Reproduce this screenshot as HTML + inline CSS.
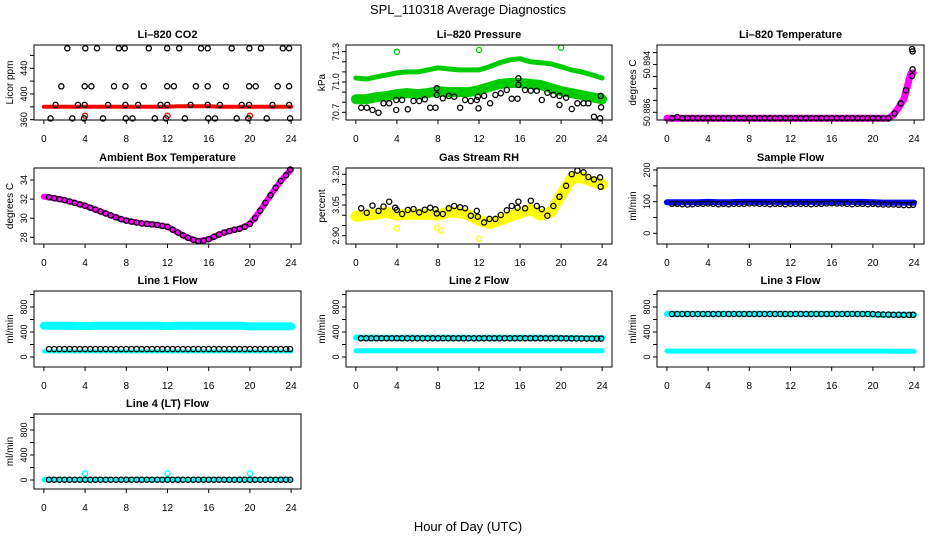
<!DOCTYPE html>
<html><head><meta charset="utf-8"><style>
html,body{margin:0;padding:0;background:#fff;}
svg{display:block;font-family:"Liberation Sans",sans-serif;}
</style></head><body>
<svg id="chart" width="936" height="540" viewBox="0 0 936 540">
<text x="468" y="14" font-size="13" text-anchor="middle">SPL_110318  Average Diagnostics</text>
<text x="468" y="531" font-size="13" text-anchor="middle">Hour of Day (UTC)</text>
</svg>
<script>
const hours = [0,1,2,3,4,5,6,7,8,9,10,11,12,13,14,15,16,17,18,19,20,21,22,23,24];
const halfHours = [0.5,1,1.5,2,2.5,3,3.5,4,4.5,5,5.5,6,6.5,7,7.5,8,8.5,9,9.5,10,10.5,11,11.5,12,12.5,13,13.5,14,14.5,15,15.5,16,16.5,17,17.5,18,18.5,19,19.5,20,20.5,21,21.5,22,22.5,23,23.5,23.9];
const xTicks = [0,4,8,12,16,20,24];

// CO2
const co2Hours = [2.27,4.02,5.16,7.27,7.85,10.18,11.97,13.14,15.25,15.9,18.23,19.95,21.08,23.19,23.8,
 1.69,3.96,4.61,6.81,7.91,9.7,11.97,12.62,14.76,15.9,17.68,19.92,20.56,22.7,23.8,
 1.14,3.31,3.96,6.23,7.91,9.15,11.32,11.97,14.24,15.9,17.09,19.2,19.92,22.19,23.8,
 0.65,2.76,3.89,5.74,7.95,8.6,10.77,11.84,13.69,15.96,16.61,18.72,19.85,21.63,23.9];
const co2Values = [471,471,471,471,471,471,471,471,471,471,471,471,471,471,471,
 412,412,412,412,412,412,412,412,412,412,412,412,412,412,412,
 383,383,383,383,383,383,383,383,383,383,383,383,383,383,383,
 362,362,362,362,362,362,362,362,362,362,362,362,362,362,362];
const co2Band = [380,380,380,380,380,380,380,380,380,380,380,380,380,381,381,381,381,380,380,380,380,380,380,380,380];
const co2OutHours = [4,12,20];
const co2OutValues = [366,366,366];

// Pressure
const presHours = [0.52,1.07,1.62,2.21,2.69,3.25,3.93,3.93,4.51,5.06,5.62,6.17,6.72,7.24,7.76,7.89,7.89,8.47,9.06,9.58,10.16,10.65,11.2,11.79,11.88,11.95,12.5,13.08,13.6,14.12,14.71,15.19,15.75,15.84,15.84,16.49,17.05,17.63,18.12,18.67,19.25,19.84,19.84,20.49,21.04,21.59,22.18,22.66,23.21,23.8,23.86,23.9];
const presValues = [70.746,70.746,70.723,70.696,70.789,70.789,70.723,70.822,70.822,70.730,70.812,70.812,70.829,70.746,70.746,70.938,70.872,70.839,70.862,70.855,70.746,70.822,70.812,70.822,70.855,70.740,70.862,70.789,70.872,70.888,70.921,70.835,70.835,71.037,70.971,70.921,70.914,70.914,70.822,70.894,70.872,70.862,70.773,70.845,70.733,70.789,70.789,70.789,70.657,70.641,70.862,70.750];
const presUpper = [71.04,71.03,71.05,71.07,71.09,71.1,71.1,71.12,71.14,71.13,71.12,71.12,71.12,71.15,71.19,71.22,71.23,71.2,71.19,71.18,71.15,71.12,71.1,71.07,71.04];
const presLower = [70.83,70.83,70.85,70.86,70.88,70.89,70.88,70.89,70.91,70.9,70.9,70.9,70.92,70.95,70.98,70.99,70.99,70.98,70.97,70.94,70.91,70.89,70.87,70.85,70.83];
const presOutHours = [4,12,20];
const presOutValues = [71.30,71.317,71.34];

// Li-820 temperature
const tempBandHours = [0,4,8,12,16,20,21.5,22,22.5,23,23.3,23.5,23.7,23.9];
const tempBand = [50.8830,50.8830,50.8830,50.8830,50.8830,50.8830,50.8830,50.8836,50.8848,50.8862,50.8880,50.8895,50.8905,50.8906];
const tempHours = [0.5,1,1.5,2,2.5,3,3.5,4,4.5,5,5.5,6,6.5,7,7.5,8,8.5,9,9.5,10,10.5,11,11.5,12,12.5,13,13.5,14,14.5,15,15.5,16,16.5,17,17.5,18,18.5,19,19.5,20,20.5,21,21.5,22.1,22.7,23.2,23.8,23.85,23.8,23.85];
const tempValues = [50.8830,50.8832,50.8830,50.8830,50.8830,50.8830,50.8830,50.8830,50.8830,50.8830,50.8830,50.8830,50.8830,50.8830,50.8830,50.8830,50.8830,50.8830,50.8830,50.8830,50.8830,50.8830,50.8830,50.8830,50.8830,50.8830,50.8830,50.8830,50.8830,50.8830,50.8830,50.8830,50.8830,50.8830,50.8830,50.8830,50.8830,50.8830,50.8830,50.8830,50.8830,50.8830,50.8830,50.8838,50.8855,50.8877,50.8901,50.8912,50.8946,50.8942];

// Ambient
const ambBand = [32.25,32.1,31.9,31.6,31.3,30.9,30.5,30.1,29.75,29.55,29.4,29.3,29.1,28.5,27.95,27.6,27.8,28.3,28.65,28.9,29.4,30.8,32.4,33.9,35.1];
const ambValues = [32.2,32.1,32.0,31.9,31.75,31.6,31.45,31.3,31.1,30.9,30.7,30.5,30.3,30.1,29.9,29.75,29.65,29.55,29.45,29.4,29.35,29.3,29.2,29.1,28.8,28.5,28.2,27.95,27.75,27.6,27.65,27.8,28.05,28.3,28.5,28.65,28.8,28.9,29.1,29.4,30.0,30.8,31.6,32.4,33.2,33.9,34.5,35.1];

// RH
const rhHours = [0.52,1.07,1.62,2.21,2.69,3.25,3.83,3.99,4.51,5.06,5.62,6.17,6.72,7.24,7.76,7.89,8.47,9.06,9.58,10.16,10.65,11.2,11.79,11.88,12.5,13.02,13.6,14.12,14.71,15.19,15.75,15.84,16.49,17.05,17.63,18.12,18.67,19.25,19.84,20.49,21.04,21.59,22.18,22.66,23.21,23.8,23.86];
const rhValues = [3.034,3.012,3.047,3.021,3.042,3.066,3.037,3.026,3.006,3.026,3.030,3.014,3.027,3.037,3.029,3.009,3.006,3.034,3.045,3.039,3.034,2.998,3.021,2.993,2.965,2.982,2.982,3.001,3.024,3.045,3.037,3.066,3.034,3.071,3.045,3.030,2.998,3.045,3.090,3.144,3.201,3.218,3.210,3.187,3.175,3.185,3.139];
const rhBand = [2.995,3.0,3.005,3.015,3.0,3.005,3.005,3.005,3.0,3.015,3.015,3.0,2.975,2.96,2.975,2.995,3.01,3.03,3.0,3.015,3.1,3.18,3.185,3.165,3.15];
const rhOutHours = [4,7.9,8.3,12];
const rhOutValues = [2.935,2.94,2.925,2.885];

// Sample flow
const sampleBand = [98,98,98,98,99,98,98,99,99,99,99,99,99,99,99,99,99,99,99,99,98,97,97,97,97];
const sampleValues = [93,93,92,91,92,93,93,94,93,92,93,92,93,93,93,94,94,93,93,92,93,93,92,93,93,93,93,92,93,93,94,95,94,94,93,92,93,93,92,93,92,91,91,91,90,89,89,90];

// Line flows
const line1Upper = [500,500,500,500,495,500,500,500,500,500,500,500,495,500,500,500,500,500,500,500,490,490,490,490,490];
const line1Lower = [90,90,90,90,90,90,90,90,90,90,90,90,90,90,90,90,90,90,90,90,90,90,90,90,90];
const line1Values = [126,126,126,126,126,126,126,126,126,126,126,126,126,126,126,126,126,126,126,126,126,126,126,126,126,126,126,126,126,126,126,126,126,126,126,126,126,126,126,126,126,126,126,126,126,126,126,126];
const line2Upper = [310,310,310,310,305,310,310,310,310,310,310,310,305,310,310,310,310,310,310,310,305,305,305,305,305];
const line2Lower = [100,100,100,100,100,100,100,100,100,100,100,100,100,100,100,100,100,100,100,100,100,100,100,100,100];
const line2Values = [300,300,300,300,300,300,300,300,300,300,300,300,300,300,300,300,300,300,300,300,300,300,300,300,300,300,300,300,300,300,300,300,300,300,300,300,300,300,300,300,298,297,296,296,295,295,294,294];
const line3Upper = [690,690,690,690,685,690,690,690,690,690,690,690,685,690,690,690,690,690,690,690,680,675,675,675,675];
const line3Lower = [95,95,95,95,95,95,95,95,95,95,95,95,95,95,95,95,95,95,95,95,95,95,92,92,92];
const line3Values = [688,688,688,688,688,688,688,688,688,688,688,688,688,688,688,688,688,688,688,688,688,688,688,688,688,688,688,688,688,688,688,688,688,688,688,688,688,688,688,688,682,680,678,676,675,674,674,676];
const line4Band = [5,5,5,5,5,5,5,5,5,5,5,5,5,5,5,5,5,5,5,5,5,5,5,5,5];
const line4Values = [5,5,5,5,5,5,5,5,5,5,5,5,5,5,5,5,5,5,5,5,5,5,5,5,5,5,5,5,5,5,5,5,5,5,5,5,5,5,5,5,5,5,5,5,5,5,5,5];
const line4OutHours = [4,12,20];
const line4OutValues = [105,105,105];

const NS = 'http://www.w3.org/2000/svg';
const svg = document.getElementById('chart');
function el(tag, attrs, parent) {
  const e = document.createElementNS(NS, tag);
  for (const k in attrs) e.setAttribute(k, attrs[k]);
  (parent || svg).appendChild(e);
  return e;
}
const cols = [[34,301],[346,612],[657,924]];
const rows = [[45,120],[168,244],[291,367],[414,489]];

function makePanel(name, title, ytitle, col, row, lo, hi, yTicks, yLabels, series) {
  const [x0,x1] = cols[col], [y0,y1] = rows[row];
  const g = el('g', {});
  
  
  const xs = h => x0 + (h + 0.96) / 25.92 * (x1 - x0);
  const ys = v => y1 - (v - lo) / (hi - lo) * (y1 - y0);
  const t = el('text', {x:(x0+x1)/2, y:y0-7, 'font-size':11, 'font-weight':'bold', 'text-anchor':'middle'}, g);
  t.textContent = title;
  
  
  const yt = el('text', {x:0, y:0, 'font-size':10, 'text-anchor':'middle', transform:`translate(${x0-21},${(y0+y1)/2}) rotate(-90)`}, g);
  yt.textContent = ytitle;
  
  
  const sg = el('g', {}, g);
  
  
  series.forEach(s => {
    if (s.type === 'band') {
      const pts = s.x.map((h,i) => xs(h).toFixed(1) + ',' + ys(s.y[i]).toFixed(1)).join(' ');
      const p = el('polyline', {points:pts, fill:'none', stroke:s.color, 'stroke-width':s.w, 'stroke-linejoin':'round', 'stroke-linecap':'round'}, sg);
      
      
    } else {
      s.x.forEach((h,i) => {
        const c = el('circle', {cx:xs(h).toFixed(1), cy:ys(s.y[i]).toFixed(1), r:2.6, fill:'none', stroke:s.color, 'stroke-width':1.3}, sg);
        
        
      });
    }
  });
  const b = el('rect', {x:x0, y:y0, width:x1-x0, height:y1-y0, fill:'none', stroke:'#000', 'stroke-width':1}, g);
  
  
  xTicks.forEach(h => {
    const X = xs(h);
    el('line', {x1:X, x2:X, y1:y1, y2:y1+4, stroke:'#000'}, g);
    const tl = el('text', {x:X, y:y1+22, 'font-size':10, 'text-anchor':'middle'}, g);
    tl.textContent = h;
    
    
  });
  yTicks.forEach((v,i) => {
    const Y = ys(v);
    el('line', {x1:x0-4, x2:x0, y1:Y, y2:Y, stroke:'#000'}, g);
    if (yLabels[i]) {
      const tl = el('text', {x:0, y:0, 'font-size':9, 'text-anchor':'middle', transform:`translate(${x0-7},${Y}) rotate(-90)`}, g);
      tl.textContent = yLabels[i];
      
      
    }
  });
}
const K = '#000', CY = '#00ffff';
makePanel('co2','Li\u2013820 CO2','Licor ppm',0,0,359.5,476.2,[360,380,400,420,440,460],['360','','400','','440',''],[
  {type:'band',x:hours,y:co2Band,color:'#ff0000',w:4,label:'co2-band'},
  {type:'pts',x:co2OutHours,y:co2OutValues,color:'#ff0000',label:'co2-outlier'},
  {type:'pts',x:co2Hours,y:co2Values,color:K,label:'co2-point'}]);
makePanel('pressure','Li\u2013820 Pressure','kPa',1,0,70.624,71.366,[70.7,70.8,70.9,71.0,71.1,71.2,71.3],['70.7','','','71.0','','','71.3'],[
  {type:'band',x:hours,y:presUpper,color:'#00cc00',w:5,label:'pressure-upper-band'},
  {type:'band',x:hours,y:presLower,color:'#00cc00',w:10,label:'pressure-lower-band'},
  {type:'pts',x:presOutHours,y:presOutValues,color:'#00cc00',label:'pressure-outlier'},
  {type:'pts',x:presHours,y:presValues,color:K,label:'pressure-point'}]);
makePanel('temperature','Li\u2013820 Temperature','degrees C',2,0,50.88271,50.89528,[50.884,50.886,50.888,50.890,50.892,50.894],['50.886','','','','50.894',''],[
  {type:'band',x:tempBandHours,y:tempBand,color:'#ff00ff',w:7,label:'temperature-band'},
  {type:'pts',x:tempHours,y:tempValues,color:K,label:'temperature-point'}]);
makePanel('ambient','Ambient Box Temperature','degrees C',0,1,27.30,35.26,[28,30,32,34],['28','30','32','34'],[
  {type:'band',x:hours,y:ambBand,color:'#ff00ff',w:6,label:'ambient-band'},
  {type:'pts',x:halfHours,y:ambValues,color:K,label:'ambient-point'}]);
makePanel('rh','Gas Stream RH','percent',1,1,2.8595,3.2308,[2.90,2.95,3.00,3.05,3.10,3.15,3.20],['2.90','','','3.05','','','3.20'],[
  {type:'band',x:hours,y:rhBand,color:'#ffff00',w:11,label:'rh-band'},
  {type:'pts',x:rhOutHours,y:rhOutValues,color:'#ffff00',label:'rh-outlier'},
  {type:'pts',x:rhHours,y:rhValues,color:K,label:'rh-point'}]);
makePanel('sample-flow','Sample Flow','ml/min',2,1,-33.8,206.2,[0,50,100,150,200],['0','','100','','200'],[
  {type:'band',x:hours,y:sampleBand,color:'#0000ff',w:6,label:'sample-band'},
  {type:'pts',x:halfHours,y:sampleValues,color:K,label:'sample-point'}]);
const flowTicks = [0,200,400,600,800,1000], flowLabels = ['0','','400','','800',''];
makePanel('line1','Line 1 Flow','ml/min',0,2,-160,1056,flowTicks,flowLabels,[
  {type:'band',x:hours,y:line1Upper,color:CY,w:8,label:'line1-upper-band'},
  {type:'band',x:hours,y:line1Lower,color:CY,w:4,label:'line1-lower-band'},
  {type:'pts',x:halfHours,y:line1Values,color:K,label:'line1-point'}]);
makePanel('line2','Line 2 Flow','ml/min',1,2,-160,1056,flowTicks,flowLabels,[
  {type:'band',x:hours,y:line2Upper,color:CY,w:6,label:'line2-upper-band'},
  {type:'band',x:hours,y:line2Lower,color:CY,w:5,label:'line2-lower-band'},
  {type:'pts',x:halfHours,y:line2Values,color:K,label:'line2-point'}]);
makePanel('line3','Line 3 Flow','ml/min',2,2,-160,1056,flowTicks,flowLabels,[
  {type:'band',x:hours,y:line3Upper,color:CY,w:6,label:'line3-upper-band'},
  {type:'band',x:hours,y:line3Lower,color:CY,w:5,label:'line3-lower-band'},
  {type:'pts',x:halfHours,y:line3Values,color:K,label:'line3-point'}]);
makePanel('line4','Line 4 (LT) Flow','ml/min',0,3,-144,1056,flowTicks,flowLabels,[
  {type:'band',x:hours,y:line4Band,color:CY,w:5,label:'line4-band'},
  {type:'pts',x:line4OutHours,y:line4OutValues,color:CY,label:'line4-outlier'},
  {type:'pts',x:halfHours,y:line4Values,color:K,label:'line4-point'}]);
</script>
</body></html>
